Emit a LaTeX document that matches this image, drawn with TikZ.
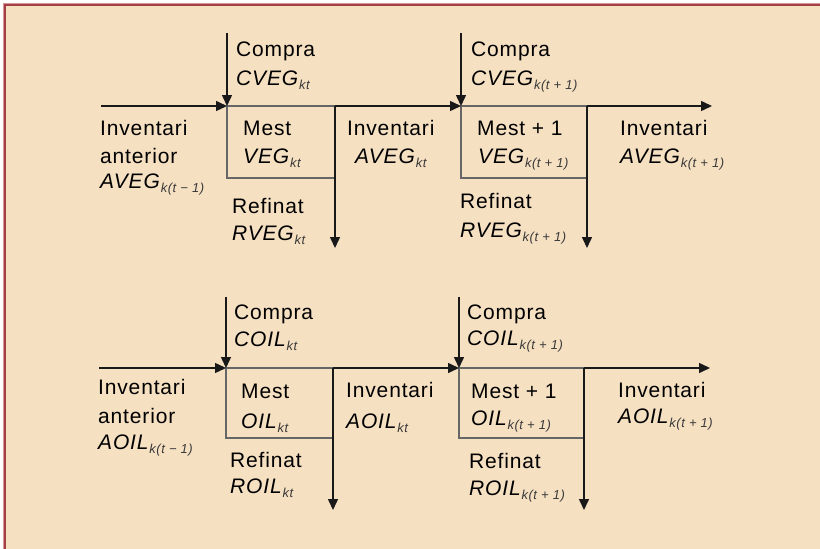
\documentclass[tikz,border=0pt]{standalone}
\usepackage{fontspec}
\setmainfont{Liberation Sans}[LetterSpace=4]
\usetikzlibrary{arrows.meta}

\definecolor{paper}{HTML}{F6E0C2}
\definecolor{framedark}{HTML}{A43E46}
\definecolor{framelight}{HTML}{D49A98}
\definecolor{subtxt}{HTML}{3A3A3A}

% italic variable name with a lowered, smaller italic index
\newcommand{\lowidx}[1]{\raisebox{-4pt}{\fontsize{13}{13}\selectfont\itshape\color{subtxt}#1}}
\newcommand{\varname}[2]{\textit{#1}\lowidx{#2}}

\tikzset{
  flow/.style={draw=black!90, line width=1.5pt, -{Triangle[length=11pt,width=10pt]}},
  stockbox/.style={draw=black!60, line width=1.2pt},
  lbl/.style={anchor=base west, inner sep=0pt, font=\fontsize{21}{25}\selectfont}
}

\begin{document}
\begin{tikzpicture}[x=1pt,y=-1pt]
  % page, paper and frame
  \useasboundingbox (0,0) rectangle (820,549);
  \fill[white] (0,0) rectangle (820,549);
  \fill[paper] (6,6) rectangle (820,549);
  \draw[framelight, line width=1pt] (3.5,549) -- (3.5,3.5) -- (820,3.5);
  \draw[framedark, line width=2pt] (5,549) -- (5,5) -- (820,5);

  % ---------------- vegetable oil stock ----------------
  \coordinate (va-in)  at (101,106);
  \coordinate (va-c1)  at (227,33);
  \coordinate (va-b1)  at (227,106);
  \coordinate (va-b1r) at (335,106);
  \coordinate (va-b1s) at (335,178);
  \coordinate (va-d1)  at (335,248);
  \coordinate (va-c2)  at (461,33);
  \coordinate (va-b2)  at (461,106);
  \coordinate (va-b2r) at (587,106);
  \coordinate (va-b2s) at (587,178);
  \coordinate (va-d2)  at (587,248);
  \coordinate (va-out) at (712,106);

  \draw[stockbox] (va-b1) rectangle (va-b1s);
  \draw[stockbox] (va-b2) rectangle (va-b2s);
  \draw[flow] (va-in) -- (va-b1);
  \draw[flow] (va-c1) -- (va-b1);
  \draw[flow] (va-b1r) -- (va-b2);
  \draw[flow] (va-c2) -- (va-b2);
  \draw[flow] (va-b2r) -- (va-out);
  \draw[flow] (va-b1r) -- (va-d1);
  \draw[flow] (va-b2r) -- (va-d2);

  \node[lbl] (va-buy1)  at (236,56)  {Compra};
  \node[lbl] (va-buy1v) at (236,85)  {\varname{CVEG}{kt}};
  \node[lbl] (va-inv0)  at (100,135) {Inventari};
  \node[lbl] (va-inv0b) at (100,163) {anterior};
  \node[lbl] (va-inv0v) at (100,188) {\varname{AVEG}{k(t − 1)}};
  \node[lbl] (va-mon1)  at (243,135) {Mest};
  \node[lbl] (va-mon1v) at (243,163) {\varname{VEG}{kt}};
  \node[lbl] (va-ref1)  at (232,213) {Refinat};
  \node[lbl] (va-ref1v) at (232,240) {\varname{RVEG}{kt}};
  \node[lbl] (va-inv1)  at (347,135) {Inventari};
  \node[lbl] (va-inv1v) at (355,163) {\varname{AVEG}{kt}};
  \node[lbl] (va-buy2)  at (471,56)  {Compra};
  \node[lbl] (va-buy2v) at (471,85)  {\varname{CVEG}{k(t + 1)}};
  \node[lbl] (va-mon2)  at (477,135) {Mest + 1};
  \node[lbl] (va-mon2v) at (478,163) {\varname{VEG}{k(t + 1)}};
  \node[lbl] (va-ref2)  at (460,208) {Refinat};
  \node[lbl] (va-ref2v) at (460,237) {\varname{RVEG}{k(t + 1)}};
  \node[lbl] (va-inv2)  at (620,135) {Inventari};
  \node[lbl] (va-inv2v) at (620,163) {\varname{AVEG}{k(t + 1)}};

  % ---------------- crude oil stock ----------------
  \coordinate (oa-in)  at (99,368);
  \coordinate (oa-c1)  at (226,297);
  \coordinate (oa-b1)  at (226,368);
  \coordinate (oa-b1r) at (333,368);
  \coordinate (oa-b1s) at (333,438);
  \coordinate (oa-d1)  at (333,510);
  \coordinate (oa-c2)  at (459,297);
  \coordinate (oa-b2)  at (459,368);
  \coordinate (oa-b2r) at (584,368);
  \coordinate (oa-b2s) at (584,438);
  \coordinate (oa-d2)  at (584,510);
  \coordinate (oa-out) at (710,368);

  \draw[stockbox] (oa-b1) rectangle (oa-b1s);
  \draw[stockbox] (oa-b2) rectangle (oa-b2s);
  \draw[flow] (oa-in) -- (oa-b1);
  \draw[flow] (oa-c1) -- (oa-b1);
  \draw[flow] (oa-b1r) -- (oa-b2);
  \draw[flow] (oa-c2) -- (oa-b2);
  \draw[flow] (oa-b2r) -- (oa-out);
  \draw[flow] (oa-b1r) -- (oa-d1);
  \draw[flow] (oa-b2r) -- (oa-d2);

  \node[lbl] (oa-buy1)  at (234,319) {Compra};
  \node[lbl] (oa-buy1v) at (234,346) {\varname{COIL}{kt}};
  \node[lbl] (oa-inv0)  at (98,394)  {Inventari};
  \node[lbl] (oa-inv0b) at (98,423)  {anterior};
  \node[lbl] (oa-inv0v) at (98,449)  {\varname{AOIL}{k(t − 1)}};
  \node[lbl] (oa-mon1)  at (241,398) {Mest};
  \node[lbl] (oa-mon1v) at (241,428) {\varname{OIL}{kt}};
  \node[lbl] (oa-ref1)  at (230,467) {Refinat};
  \node[lbl] (oa-ref1v) at (230,493) {\varname{ROIL}{kt}};
  \node[lbl] (oa-inv1)  at (346,397) {Inventari};
  \node[lbl] (oa-inv1v) at (346,428) {\varname{AOIL}{kt}};
  \node[lbl] (oa-buy2)  at (467,319) {Compra};
  \node[lbl] (oa-buy2v) at (467,345) {\varname{COIL}{k(t + 1)}};
  \node[lbl] (oa-mon2)  at (471,398) {Mest + 1};
  \node[lbl] (oa-mon2v) at (471,425) {\varname{OIL}{k(t + 1)}};
  \node[lbl] (oa-ref2)  at (469,468) {Refinat};
  \node[lbl] (oa-ref2v) at (469,495) {\varname{ROIL}{k(t + 1)}};
  \node[lbl] (oa-inv2)  at (618,397) {Inventari};
  \node[lbl] (oa-inv2v) at (618,423) {\varname{AOIL}{k(t + 1)}};
\end{tikzpicture}
\end{document}
